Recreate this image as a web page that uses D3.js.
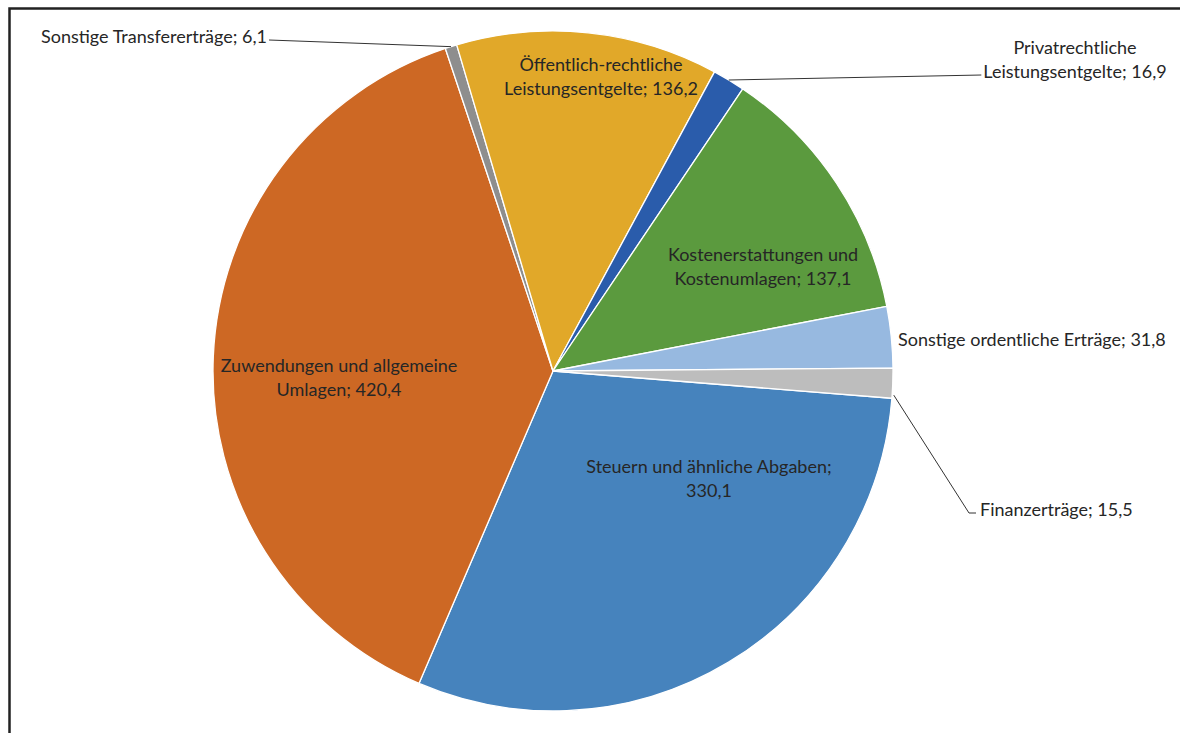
<!DOCTYPE html>
<html>
<head>
<meta charset="utf-8">
<script src="https://cdn.jsdelivr.net/npm/d3@7"></script>
<style>
  html, body { margin: 0; padding: 0; background: #fff; }
  svg { display: block; }
</style>
</head>
<body>
<svg id="chart" width="1180" height="733"></svg>
<script>
// Ordentliche Erträge (Mio. EUR), in Tabellenreihenfolge
const categories = [
  "Steuern und ähnliche Abgaben",
  "Zuwendungen und allgemeine Umlagen",
  "Sonstige Transfererträge",
  "Öffentlich-rechtliche Leistungsentgelte",
  "Privatrechtliche Leistungsentgelte",
  "Kostenerstattungen und Kostenumlagen",
  "Sonstige ordentliche Erträge",
  "Finanzerträge"
];
const values = [330.1, 420.4, 6.1, 136.2, 16.9, 137.1, 31.8, 15.5];
const valueLabels = ["330,1", "420,4", "6,1", "136,2", "16,9", "137,1", "31,8", "15,5"];
// Zeilenumbrüche der Beschriftungen
const labelLines = [
  ["Steuern und ähnliche Abgaben;", "330,1"],
  ["Zuwendungen und allgemeine", "Umlagen; 420,4"],
  ["Sonstige Transfererträge; 6,1"],
  ["Öffentlich-rechtliche", "Leistungsentgelte; 136,2"],
  ["Privatrechtliche", "Leistungsentgelte; 16,9"],
  ["Kostenerstattungen und", "Kostenumlagen; 137,1"],
  ["Sonstige ordentliche Erträge; 31,8"],
  ["Finanzerträge; 15,5"]
];
const colors = ["#4683bd", "#cd6824", "#8e8e8e", "#e1a829", "#2a5cab", "#5b9a3e", "#97b9e0", "#bdbdbd"];

const svg = d3.select("#chart");
const cx = 553, cy = 371, R = 340;

// chart frame
svg.append("rect")
  .attr("x", 9.5).attr("y", 8.5)
  .attr("width", 1200).attr("height", 800)
  .attr("fill", "none").attr("stroke", "#222").attr("stroke-width", 2.5);

const pie = d3.pie().sort(null).value(d => d)
  .startAngle(94.6 * Math.PI / 180)
  .endAngle((94.6 + 360) * Math.PI / 180);
const arcs = pie(values);
const arc = d3.arc().innerRadius(0).outerRadius(R);

const g = svg.append("g").attr("transform", `translate(${cx},${cy})`);
g.selectAll("path.slice").data(arcs).join("path")
  .attr("class", "slice")
  .attr("d", arc)
  .attr("fill", (d, i) => colors[i])
  .attr("stroke", "#ffffff").attr("stroke-width", 1.3).attr("stroke-linejoin", "round");

// label placement: anchor point relative to the pie centre, text anchor, leader line
const layout = [
  { x: 156, y: 108, anchor: "middle" },
  { x: -214, y: 7, anchor: "middle" },
  { x: -512, y: -334, anchor: "start", leader: "left" },
  { x: 48, y: -294, anchor: "middle" },
  { x: 522, y: -311, anchor: "middle", leader: "rightTwo" },
  { x: 210, y: -104, anchor: "middle" },
  { x: 345, y: -31, anchor: "start" },
  { x: 427, y: 139, anchor: "start", leader: "bend" }
];

const lineH = 24;
const labels = g.selectAll("g.lbl").data(arcs).join("g").attr("class", "lbl");
labels.each(function (d, i) {
  const L = layout[i];
  const lines = labelLines[i];
  const t = d3.select(this).append("text")
    .attr("text-anchor", L.anchor)
    .attr("font-family", "Lato, 'Open Sans', sans-serif")
    .attr("font-size", 18)
    .attr("fill", "#262626");
  const y0 = L.y - (lines.length - 1) * lineH / 2;
  lines.forEach((s, k) => {
    t.append("tspan").attr("x", L.x).attr("y", y0 + k * lineH).attr("dy", "0.35em").text(s);
  });
});

// leader lines from labels to their slice edge
const edge = (d, r) => {
  const a = (d.startAngle + d.endAngle) / 2;
  return [Math.sin(a) * r, -Math.cos(a) * r];
};
const leaderPaths = [];
arcs.forEach((d, i) => {
  const L = layout[i];
  if (!L.leader) return;
  const p = edge(d, R);
  if (L.leader === "left") {
    const node = labels.nodes()[i].querySelector("text");
    const w = node.getComputedTextLength();
    leaderPaths.push([[L.x + w + 2, L.y + 3], p]);
  } else if (L.leader === "rightTwo") {
    const node = labels.nodes()[i].querySelector("text");
    const tsp = node.querySelectorAll("tspan")[1];
    const w = tsp.getComputedTextLength();
    leaderPaths.push([[L.x - w / 2 - 2, L.y + lineH / 2 + 3], p]);
  } else if (L.leader === "bend") {
    leaderPaths.push([[L.x - 4, L.y + 3], [L.x - 11, L.y + 3], [p[0] + 1, p[1] + 12]]);
  }
});
g.selectAll("path.leader").data(leaderPaths).join("path")
  .attr("class", "leader")
  .attr("d", d3.line())
  .attr("fill", "none").attr("stroke", "#333").attr("stroke-width", 1);
</script>
</body>
</html>
